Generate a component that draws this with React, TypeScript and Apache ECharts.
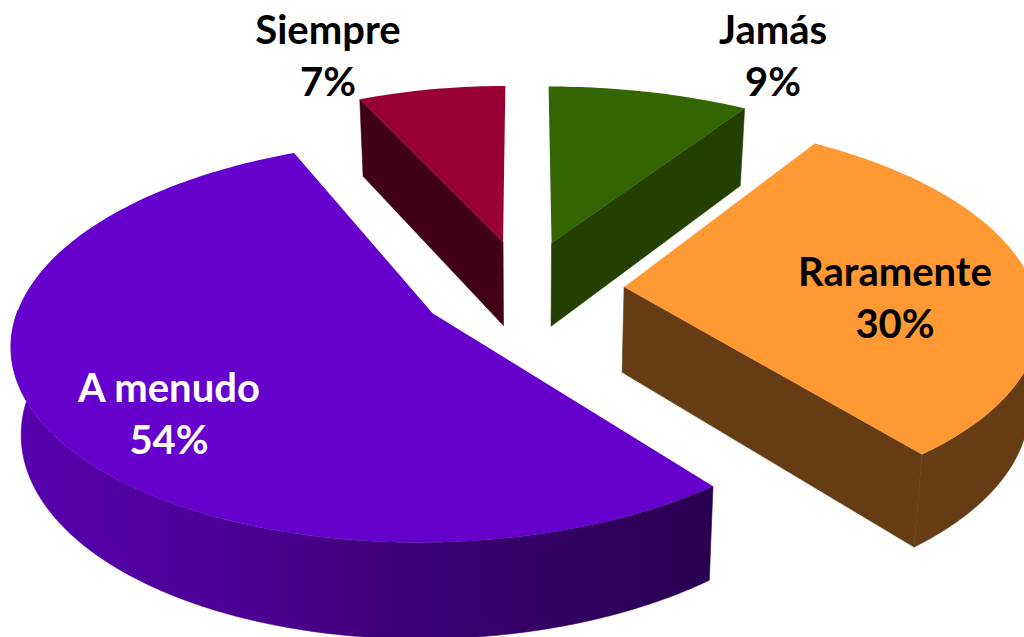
import React, { useEffect, useRef } from "react";
import * as echarts from "echarts";

const categories = ["A menudo", "Siempre", "Jamás", "Raramente"];
const values = [54, 7, 9, 30];
const percentLabels = ["54%", "7%", "9%", "30%"];
const topColors = ["#6600CC", "#990033", "#336600", "#FF9933"];
const sideColors = ["#3A0070", "#400018", "#234000", "#663C14"];
const labelColors = ["#FFFFFF", "#000000", "#000000", "#000000"];
const labelAnchors = [[169, 387], [328, 29], [773, 29], [895, 271]];
const explode = [0.25, 0.235, 0.235, 0.245];
const radiusX = [1.015, 0.98, 1.04, 1.02];
const radiusY = [0.99, 0.98, 0.98, 1];
const nudge = [[-7, -2], [-3, -4], [0, -4], [0, 1]];
const rimTrim = [[1, 1.5], [0, 0], [0, 0], [0.8, 1]];

const START_ANGLE = 50.4;
const CX = 526, CY = 289, R = 402, A = 192, K = 0.138;
const FONT = "Lato";

const total = values.reduce((a, b) => a + b, 0);

function top(u: number, v: number, n: number[]) {
  const w = 1 - K * v;
  return [CX + (R * u) / w + n[0], CY + (A * v) / w + n[1]];
}
function bottom(p: number[]) {
  return [CX + (p[0] - CX) * 0.98, p[1] + 72.6 + 0.044 * p[1]];
}

function renderItem(params: any, api: any) {
  const i = params.dataIndex;
  const before = values.slice(0, i).reduce((a, b) => a + b, 0);
  const val = api.value(0);
  const a0raw = START_ANGLE + (before / total) * 360;
  const a1raw = a0raw + (val / total) * 360;
  const rad = (d: number) => (d * Math.PI) / 180;
  const mid = rad((a0raw + a1raw) / 2);
  const a0 = a0raw + rimTrim[i][0];
  const a1 = a1raw + rimTrim[i][1];
  const ox = explode[i] * Math.cos(mid);
  const oy = explode[i] * Math.sin(mid);
  const P = (d: number) =>
    top(ox + radiusX[i] * Math.cos(rad(d)), oy + radiusY[i] * Math.sin(rad(d)), nudge[i]);
  const apex = top(ox, oy, nudge[i]);
  const steps = Math.max(8, Math.round(a1 - a0));
  const rim: number[][] = [];
  for (let s = 0; s <= steps; s++) rim.push(P(a0 + ((a1 - a0) * s) / steps));

  const children: any[] = [];
  const side = i === 0
    ? new echarts.graphic.LinearGradient(0, 0, 1, 0, [
        { offset: 0, color: "#5800B0" },
        { offset: 0.35, color: "#4A0090" },
        { offset: 0.6, color: "#3C0074" },
        { offset: 1, color: "#290050" },
      ])
    : sideColors[i];

  const face = (d: number, normal: number) => {
    if (Math.sin(rad(normal)) > 0.1) {
      const p = P(d);
      children.push({
        type: "polygon",
        shape: { points: [apex, p, bottom(p), bottom(apex)] },
        style: { fill: sideColors[i], stroke: sideColors[i], lineWidth: 0.6 },
      });
    }
  };
  face(a0, a0 - 90);
  face(a1, a1 + 90);

  const front: number[][] = [];
  for (let s = 0; s <= steps * 2; s++) {
    const d = a0 + ((a1 - a0) * s) / (steps * 2);
    if (Math.sin(rad(d)) >= -0.02) front.push(P(d));
  }
  if (front.length > 1 && a1 - a0 > 40) {
    children.push({
      type: "polygon",
      shape: { points: [...front, ...front.slice().reverse().map(bottom)] },
      style: { fill: side, stroke: side, lineWidth: 0.6 },
    });
  }
  children.push({
    type: "polygon",
    shape: { points: [apex, ...rim] },
    style: { fill: topColors[i] },
  });
  const [lx, ly] = labelAnchors[i];
  const txt = (t: string, y: number) => ({
    type: "text",
    z2: 10,
    style: {
      x: lx, y, text: t, fill: labelColors[i],
      font: `bold 40px ${FONT}`, textAlign: "center", textVerticalAlign: "middle",
    },
  });
  children.push(txt(categories[i], ly), txt(percentLabels[i], ly + 52));
  return { type: "group", children };
}

export default function App() {
  const ref = useRef<HTMLDivElement>(null);
  useEffect(() => {
    const chart = echarts.init(ref.current!, undefined, { renderer: "svg" });
    chart.setOption({
      animation: false,
      backgroundColor: "#FFFFFF",
      series: [{
        type: "custom",
        coordinateSystem: "none",
        renderItem,
        data: values.map((v, i) => ({ name: categories[i], value: [v] })),
        silent: true,
      }],
    });
    return () => chart.dispose();
  }, []);
  return <div ref={ref} style={{ position: "fixed", left: 0, top: 0, width: 1024, height: 637 }} />;
}
